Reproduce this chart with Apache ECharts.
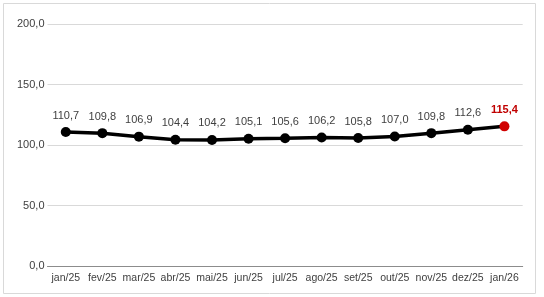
<!DOCTYPE html>
<html><head><meta charset="utf-8">
<script src="https://cdn.jsdelivr.net/npm/echarts@6/dist/echarts.min.js"></script>
<style>html,body{margin:0;padding:0;background:#fff}#c{width:544px;height:297px}</style>
</head><body><div id="c"></div>
<script>
const categories = ['jan/25','fev/25','mar/25','abr/25','mai/25','jun/25','jul/25','ago/25','set/25','out/25','nov/25','dez/25','jan/26'];
const values = [110.7,109.8,106.9,104.4,104.2,105.1,105.6,106.2,105.8,107.0,109.8,112.6,115.4];
const yTicks = [0,50,100,150,200];
const fmt = v => v.toFixed(1).replace('.', ',');
const lastIdx = values.length - 1;
const chart = echarts.init(document.getElementById('c'));
chart.setOption({
  animation:false,
  graphic:[{type:'rect',shape:{x:3.5,y:3.5,width:532,height:290},style:{fill:'none',stroke:'#d9d9d9',lineWidth:1},silent:true}],
  grid:{left:47.5,right:21.3,top:24,bottom:31},
  xAxis:{type:'category',data:categories,boundaryGap:true,
    axisLine:{lineStyle:{color:'#8c8c8c',width:1}},axisTick:{show:false},
    axisLabel:{interval:0,color:'#404040',fontFamily:'Liberation Sans',fontSize:10.5,margin:7}},
  yAxis:{type:'value',min:yTicks[0],max:yTicks[yTicks.length-1],interval:50,
    axisLine:{show:false},axisTick:{show:false},
    splitLine:{lineStyle:{color:'#d9d9d9',width:1}},
    axisLabel:{color:'#404040',fontFamily:'Liberation Sans',fontSize:11,margin:3,formatter:fmt}},
  series:[{type:'line',
    data:values.map((v,i)=> i===lastIdx ? {value:v,itemStyle:{color:'#d00000'},label:{color:'#c00000',fontWeight:'bold'}} : v),
    lineStyle:{color:'#000',width:3.5},itemStyle:{color:'#000'},
    symbol:'circle',symbolSize:10,
    label:{show:true,position:'top',distance:6,color:'#404040',fontFamily:'Liberation Sans',fontSize:11,formatter:p=>fmt(p.value)}}]
});
</script></body></html>
